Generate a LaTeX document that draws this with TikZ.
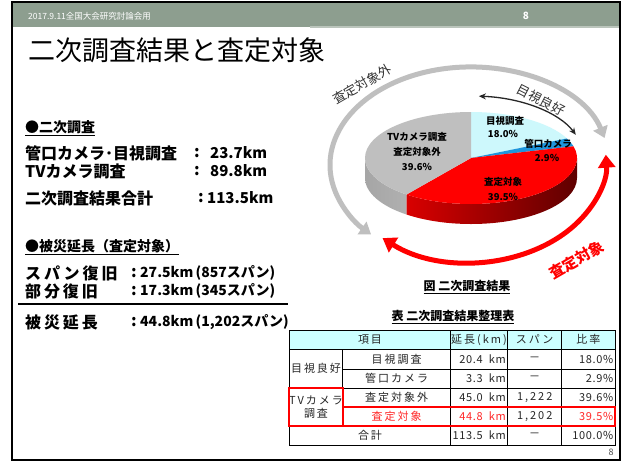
\documentclass[tikz,border=0pt]{standalone}
\usepackage{fontspec}
\setmainfont{Noto Sans CJK JP}
\newfontfamily\tabfont[LetterSpace=18]{Noto Sans CJK JP}
\newfontfamily\numfont[LetterSpace=6]{Noto Sans CJK JP}
\usetikzlibrary{arrows.meta}

\definecolor{bandgreen}{RGB}{141,158,143}
\definecolor{piecyan}{RGB}{205,248,252}
\definecolor{pieblue}{RGB}{30,150,220}
\definecolor{piegray}{RGB}{191,191,191}
\definecolor{headcyan}{RGB}{204,255,255}
\definecolor{maroon}{RGB}{95,0,0}

\begin{document}
\begin{tikzpicture}[x=1pt, y=1pt,
    every node/.style={inner sep=0pt},
    lefttxt/.style={anchor=west, font=\bfseries\fontsize{16}{16}\selectfont},
    widetxt/.style={anchor=west, font=\bfseries\fontsize{16}{16}\selectfont\addfontfeatures{LetterSpace=18}},
    valtxt/.style={anchor=west, font=\bfseries\fontsize{15}{15}\selectfont},
    spantxt/.style={anchor=west, font=\bfseries\fontsize{14}{14}\selectfont},
    secttl/.style={anchor=west, font=\bfseries\fontsize{14}{14}\selectfont},
    pielbl/.style={font=\bfseries\fontsize{9.5}{10}\selectfont},
    arclbl/.style={font=\fontsize{13}{13}\selectfont, text=black!80},
    captxt/.style={font=\bfseries\fontsize{12}{12}\selectfont},
    tabtxt/.style={font=\tabfont\fontsize{11}{13}\selectfont, text=black!85},
    tabnum/.style={anchor=east, font=\numfont\fontsize{11}{13}\selectfont, text=black!85},
    grayarc/.style={draw=gray!50, line width=5pt,
        {Triangle[width=15pt,length=11pt]}-{Triangle[width=15pt,length=11pt]}},
    redarc/.style={draw=red, line width=5pt,
        {Triangle[width=17pt,length=13pt]}-{Triangle[width=17pt,length=13pt]}},
    blackarc/.style={draw=black!85, line width=1.3pt,
        {Stealth[length=7pt,width=6pt]}-{Stealth[length=7pt,width=6pt]}},
    redbox/.style={draw=red, line width=2pt}]

\fill[white] (0,0) rectangle (623,-461);
\useasboundingbox (0,0) rectangle (623,-461);
\draw[line width=2pt] (12,-1.5) rectangle (619.5,-459.5);

\fill[bandgreen] (13,-3) rectangle (618.5,-27);
\fill[bandgreen!60] (310,-26) rectangle (618.5,-28);
\node[anchor=west, text=white, font=\fontsize{8.5}{9}\selectfont] (band) at (28,-16) {2017.9.11全国大会研究討論会用};
\node[text=white, font=\bfseries\fontsize{10}{10}\selectfont] (bandno) at (526,-16) {8};

\node[anchor=west, font=\fontsize{27}{27}\selectfont] (title) at (28,-50) {二次調査結果と査定対象};

\node[secttl] (sec1) at (25,-128) {\underline{●二次調査}};
\node[lefttxt] (l1) at (25,-153) {管口カメラ･目視調査};
\node[lefttxt] (c1) at (194,-153) {:};
\node[valtxt] (v1) at (210,-153) {23.7km};
\node[lefttxt] (l2) at (25,-171) {TVカメラ調査};
\node[lefttxt] (c2) at (194,-171) {:};
\node[valtxt] (v2) at (210,-171) {89.8km};
\node[lefttxt] (l3) at (25,-198) {二次調査結果合計};
\node[lefttxt] (c3) at (198,-198) {:};
\node[valtxt] (v3) at (207,-198) {113.5km};

\node[secttl] (sec2) at (25,-247) {\underline{●被災延長（査定対象）}};
\node[widetxt] (l4) at (25,-273) {スパン復旧};
\node[lefttxt] (c4) at (131,-273) {:};
\node[spantxt] (v4) at (140,-273) {27.5km\,(857スパン)};
\node[widetxt] (l5) at (25,-291) {部分復旧};
\node[lefttxt] (c5) at (131,-291) {:};
\node[spantxt] (v5) at (140,-291) {17.3km\,(345スパン)};
\draw[line width=1.2pt] (18,-304) -- (288,-304);
\node[widetxt] (l6) at (25,-322) {被災延長};
\node[lefttxt] (c6) at (131,-322) {:};
\node[spantxt] (v6) at (140,-322) {44.8km\,(1,202スパン)};

% pie
\coordinate (pc) at (471,-158);
\shade[left color=gray!70, right color=gray!62]
  ([shift={(180:106 and 46)}]pc) arc[start angle=180, end angle=232.56, x radius=106, y radius=46]
  -- ++(0,-20) arc[start angle=232.56, end angle=180, x radius=106, y radius=46] -- cycle;
\shade[left color=red!85!black, right color=maroon]
  ([shift={(232.56:106 and 46)}]pc) arc[start angle=232.56, end angle=360, x radius=106, y radius=46]
  -- ++(0,-20) arc[start angle=360, end angle=232.56, x radius=106, y radius=46] -- cycle;
\fill[piecyan] (pc) -- ([shift={(90:106 and 46)}]pc) arc[start angle=90, end angle=25.2, x radius=106, y radius=46] -- cycle;
\fill[pieblue] (pc) -- ([shift={(25.2:106 and 46)}]pc) arc[start angle=25.2, end angle=14.76, x radius=106, y radius=46] -- cycle;
\fill[red] (pc) -- ([shift={(14.76:106 and 46)}]pc) arc[start angle=14.76, end angle=-127.44, x radius=106, y radius=46] -- cycle;
\fill[piegray] (pc) -- ([shift={(90:106 and 46)}]pc) arc[start angle=90, end angle=232.56, x radius=106, y radius=46] -- cycle;

\node[pielbl] (p1) at (505,-121) {目視調査};
\node[pielbl] (p1v) at (503,-134) {18.0\%};
\node[pielbl] (p2) at (548,-144) {管口カメラ};
\node[pielbl] (p2v) at (547,-158) {2.9\%};
\node[pielbl] (p3) at (417,-137) {TVカメラ調査};
\node[pielbl] (p3b) at (417,-152) {査定対象外};
\node[pielbl] (p3v) at (417,-167) {39.6\%};
\node[pielbl] (p4) at (503,-182) {査定対象};
\node[pielbl] (p4v) at (503,-197) {39.5\%};

% arcs round the pie
\coordinate (grayc) at (470,-165);
\coordinate (grayend) at ([shift={(16:140 and 98)}]grayc);
\draw[grayarc] (grayend) arc[start angle=16, end angle=225, x radius=140, y radius=98];
\coordinate (redc) at (470,-160);
\coordinate (redend) at ([shift={(230:136 and 102)}]redc);
\draw[redarc] (redend) arc[start angle=230, end angle=363, x radius=136, y radius=102];
\coordinate (blkend) at ([shift={(22:113 and 62)}]pc);
\draw[blackarc] (blkend) arc[start angle=22, end angle=86, x radius=113, y radius=62];

\node[arclbl, rotate=30] (outlbl) at (362,-84) {査定対象外};
\node[arclbl, rotate=-27] (goodlbl) at (541,-100) {目視良好};
\node[rotate=30, text=red, font=\bfseries\fontsize{15}{15}\selectfont] (inlbl) at (577,-260) {査定対象};

\node[captxt] (figcap) at (467,-287) {\underline{図\ 二次調査結果}};
\node[captxt] (tabcap) at (453,-317) {\underline{表\ 二次調査結果整理表}};

% table
\fill[headcyan] (289,-330) rectangle (615,-349.3);
\draw[line width=0.8pt] (289,-330) rectangle (615,-445);
\draw[line width=0.8pt] (289,-349.3) -- (615,-349.3);
\draw[line width=0.8pt] (342.7,-369) -- (615,-369);
\draw[line width=0.8pt] (289,-388) -- (615,-388);
\draw[line width=0.8pt] (342.7,-407) -- (615,-407);
\draw[line width=0.8pt] (289,-426) -- (615,-426);
\draw[line width=0.8pt] (342.7,-349.3) -- (342.7,-426);
\foreach \cx in {450.7,507.7,561.7}
  \draw[line width=0.8pt] (\cx,-330) -- (\cx,-445);

\node[tabtxt] (th1) at (370,-339.5) {項目};
\node[tabtxt] (th2) at (479,-339.5) {延長(km)};
\node[tabtxt] (th3) at (534.7,-339.5) {スパン};
\node[tabtxt] (th4) at (588.3,-339.5) {比率};

\node[tabtxt] (g1) at (316,-368.5) {目視良好};
\node[tabtxt] (r1a) at (396.7,-359) {目視調査};
\node[tabnum] (r1b) at (506,-359) {20.4\ \ km};
\node[tabtxt] (r1c) at (534.7,-359) {－};
\node[tabnum] (r1d) at (613.5,-359) {18.0\%};
\node[tabtxt] (r2a) at (396.7,-378.5) {管口カメラ};
\node[tabnum] (r2b) at (506,-378.5) {3.3\ \ km};
\node[tabtxt] (r2c) at (534.7,-378.5) {－};
\node[tabnum] (r2d) at (613.5,-378.5) {2.9\%};
\node[tabtxt, align=center] (g2) at (316,-407) {TVカメラ\\調査};
\node[tabtxt] (r3a) at (396.7,-397.5) {査定対象外};
\node[tabnum] (r3b) at (506,-397.5) {45.0\ \ km};
\node[tabtxt] (r3c) at (534.7,-397.5) {1,222};
\node[tabnum] (r3d) at (613.5,-397.5) {39.6\%};
\node[tabtxt, text=red!85] (r4a) at (396.7,-416.5) {査定対象};
\node[tabnum, text=red!85] (r4b) at (506,-416.5) {44.8\ \ km};
\node[tabtxt] (r4c) at (534.7,-416.5) {1,202};
\node[tabnum, text=red!85] (r4d) at (613.5,-416.5) {39.5\%};
\node[tabtxt] (tot) at (370,-435.5) {合計};
\node[tabnum] (totb) at (506,-435.5) {113.5\ \ km};
\node[tabtxt] (totc) at (534.7,-435.5) {－};
\node[tabnum] (totd) at (613.5,-435.5) {100.0\%};

\draw[redbox] (289.3,-388.3) rectangle (343,-426);
\draw[redbox] (343,-407.3) rectangle (614.5,-426);

\node[text=black!70, font=\fontsize{9}{9}\selectfont] (pageno) at (611,-452) {8};
\end{tikzpicture}
\end{document}
